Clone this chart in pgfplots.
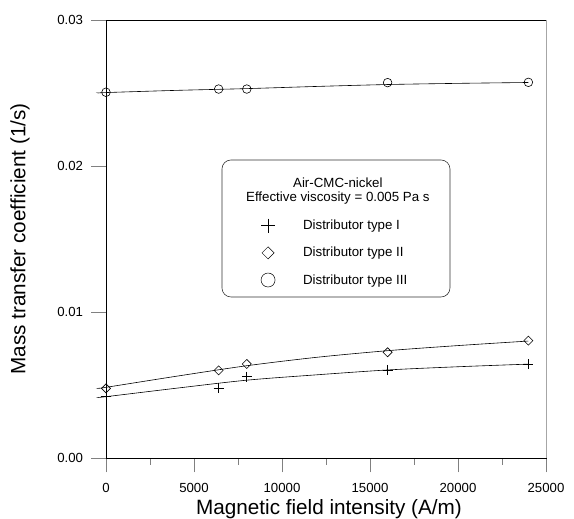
\documentclass[border=0pt]{standalone}
\usepackage{fontspec}
\setmainfont{Liberation Sans}
\usepackage{pgfplots}
\pgfplotsset{compat=1.18}

\begin{document}
\begin{tikzpicture}
\useasboundingbox (-106pt,-61pt) rectangle (468pt,458pt);
\begin{axis}[
  anchor=south west, at={(0pt,0pt)},
  scale only axis, width=440pt, height=438pt,
  xmin=0, xmax=25000, ymin=0, ymax=0.03,
  clip=false,
  xtick={0,5000,...,25000}, ytick={0,0.01,0.02,0.03},
  minor x tick num=1,
  tick align=outside, tick pos=left,
  major tick length=14.5pt, minor tick length=7pt,
  scaled x ticks=false, scaled y ticks=false,
  /pgf/number format/assume math mode=true,
  xticklabel style={yshift=-7pt, /pgf/number format/1000 sep={}},
  yticklabel style={xshift=-5pt, /pgf/number format/.cd, fixed, fixed zerofill, precision=2},
  tick label style={font=\fontsize{13.2}{15}\selectfont},
  xlabel={Magnetic field intensity (A/m)},
  ylabel={Mass transfer coefficient (1/s)},
  label style={font=\fontsize{20.7}{24}\selectfont},
  xlabel style={at={(axis description cs:0.5,0)}, anchor=center, yshift=-51pt, xshift=3pt},
  ylabel style={at={(axis description cs:0,0.5)}, anchor=center, yshift=86pt},
  every axis plot/.append style={black, line width=0.6pt},
  legend style={draw=none, fill=none, inner sep=0pt, at={(0.352,0.548)}, anchor=north west,
    row sep=12pt, column sep=0pt, font=\fontsize{13.3}{15}\selectfont,
    nodes={inner sep=2pt}},
  legend cell align=left,
  legend image code/.code={\path[draw=none, fill=none] (-7pt,-6pt) rectangle (33pt,6pt);
    \draw[#1] plot coordinates {(0pt,0pt)};},
]
% fitted curves
\addplot[no marks, smooth, forget plot] coordinates {
  (-400,0.00416) (0,0.0042) (4000,0.00478) (8000,0.00533) (12000,0.0057)
  (16000,0.00603) (20000,0.00625) (24000,0.00643)};
\addplot[no marks, smooth, forget plot] coordinates {
  (-400,0.00478) (0,0.00484) (4000,0.0056) (8000,0.00632) (12000,0.0069)
  (16000,0.00735) (20000,0.0077) (24000,0.00801)};
\addplot[no marks, smooth, forget plot] coordinates {
  (-400,0.02500) (0,0.02503) (4000,0.02518) (8000,0.0253) (12000,0.02545)
  (16000,0.02558) (20000,0.02566) (24000,0.02572)};
% measured points
\addplot[only marks, mark=+, mark size=5pt, forget plot] coordinates {
  (0,0.0042) (6400,0.00477) (8000,0.00557) (16000,0.00603) (24000,0.00642)};
\addplot[only marks, mark=square, mark size=3.2pt, mark options={rotate=45}, forget plot] coordinates {
  (0,0.00477) (6400,0.00600) (8000,0.00644) (16000,0.00724) (24000,0.00804)};
\addplot[only marks, mark=o, mark size=4.3pt, forget plot] coordinates {
  (0,0.02505) (6400,0.02527) (8000,0.02527) (16000,0.02571) (24000,0.02573)};
% legend
\addlegendimage{only marks, mark=+, mark size=7pt, line width=0.5pt}
\addlegendentry{Distributor type I}
\addlegendimage{only marks, mark=square, mark size=4.3pt, mark options={rotate=45}, line width=0.5pt}
\addlegendentry{Distributor type II}
\addlegendimage{only marks, mark=o, mark size=7pt, line width=0.5pt}
\addlegendentry{Distributor type III}
\draw[black!80, line width=0.6pt, rounded corners=9pt]
  (rel axis cs:0.2636,0.3676) rectangle (rel axis cs:0.7818,0.6804);
\node[font=\fontsize{13.3}{15}\selectfont] at (rel axis cs:0.527,0.628) {Air-CMC-nickel};
\node[font=\fontsize{13.3}{15}\selectfont] at (rel axis cs:0.527,0.594) {Effective viscosity = 0.005 Pa s};
\draw[gray!70, line width=0.8pt] (rel axis cs:1,0) -- (rel axis cs:1,1);
\end{axis}
\end{tikzpicture}
\end{document}
